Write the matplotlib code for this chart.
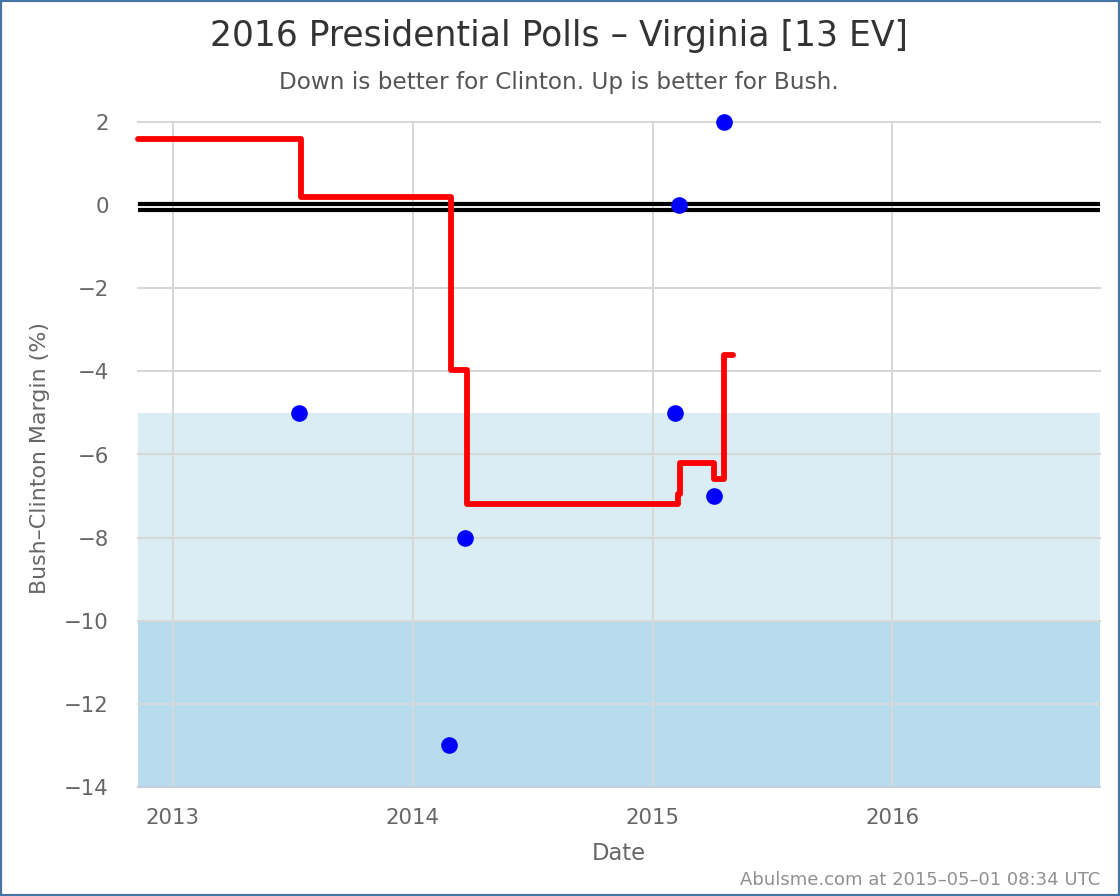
"""
Virginia poll average chart
"""
import matplotlib
matplotlib.use("Agg")
import matplotlib.pyplot as plt
import pandas as pd
from matplotlib.patches import Rectangle

POLL_DATES = ["2013-07-12", "2014-02-26", "2014-03-21", "2015-02-04",
              "2015-02-11", "2015-04-04", "2015-04-20"]
POLL_MARGINS = [-5, -13, -8, -5, 0, -7, 2]

AVG_DATES = ["2012-11-09", "2013-07-15", "2014-02-28", "2014-03-24",
             "2015-02-09", "2015-02-12", "2015-04-04", "2015-04-20",
             "2015-05-03"]
AVG_MARGINS = [1.6, 0.2, -3.97, -7.2, -6.95, -6.2, -6.6, -3.6, -3.6]

X_RANGE = ["2012-11-09", "2016-11-12"]
Y_RANGE = [-14, 2]
Y_TICKS = [2, 0, -2, -4, -6, -8, -10, -12, -14]
YEAR_TICKS = ["2013-01-01", "2014-01-01", "2015-01-01", "2016-01-01"]
YEAR_LABELS = ["2013", "2014", "2015", "2016"]
BANDS = [(-10, -5, "#daedf5"), (-14, -10, "#b6dcee")]
ZERO_LINES = [0.03, -0.12]

W, H = 1120, 896
plt.rcParams["font.family"] = "DejaVu Sans"

fig = plt.figure(figsize=(W / 100, H / 100), dpi=100)
ax = fig.add_axes([138 / W, 1 - 787 / H, (1100 - 138) / W, (787 - 122) / H])

ax.set_xlim(pd.to_datetime(X_RANGE[0]), pd.to_datetime(X_RANGE[1]))
ax.set_ylim(Y_RANGE[0], Y_RANGE[1])

for low, high, color in BANDS:
  ax.axhspan(low, high, color=color, lw=0, zorder=0)

ax.grid(True, color="#d8d8d8", lw=1.45, zorder=1)
ax.set_axisbelow(True)
ax.set_xticks(pd.to_datetime(YEAR_TICKS))
ax.set_xticklabels(YEAR_LABELS)
ax.set_yticks(Y_TICKS)
ax.set_yticklabels([str(t).replace("-", "\u2212") for t in Y_TICKS])
ax.tick_params(length=0, labelsize=15.3, labelcolor="#666666")
ax.tick_params(axis="x", pad=15)
ax.tick_params(axis="y", pad=21)
for line in ax.get_ygridlines():
  line.set_clip_on(False)

for side in ["top", "left", "right"]:
  ax.spines[side].set_visible(False)
ax.spines["bottom"].set_color("#c0d0e0")
ax.spines["bottom"].set_linewidth(1.45)

for level in ZERO_LINES:
  ax.axhline(level, color="black", lw=3.0, zorder=2)

ax.step(pd.to_datetime(AVG_DATES), AVG_MARGINS, where="post", color="#ff0000",
        lw=4.2, solid_capstyle="round", solid_joinstyle="round", clip_on=False,
        zorder=3)
ax.plot(pd.to_datetime(POLL_DATES), POLL_MARGINS, ls="none", marker="o",
        ms=12, mfc="#0000ff", mec="#0000ff", mew=0, clip_on=False, zorder=4)

ax.set_xlabel("Date", fontsize=16.3, color="#666666", labelpad=10)
ax.set_ylabel("Bush\u2013Clinton Margin (%)", fontsize=15.9, color="#666666")
ax.yaxis.set_label_coords((50 - 138) / (1100 - 138), (787 - 458) / (787 - 122))

fig.text(559 / W, 1 - 36 / H, "2016 Presidential Polls \u2013 Virginia [13 EV]",
         fontsize=24.9, color="#333333", ha="center", va="center")
fig.text(559 / W, 1 - 82 / H, "Down is better for Clinton. Up is better for Bush.",
         fontsize=16.7, color="#555555", ha="center", va="center")
fig.text(1100 / W, 1 - 880 / H, "Abulsme.com at 2015\u201305\u201301 08:34 UTC",
         fontsize=13, color="#909090", ha="right", va="center")

# outer frame of the chart
fig.add_artist(Rectangle((0, 0), 1, 1, transform=fig.transFigure, fill=False,
                         ec="#4572a7", lw=3.0))

fig.savefig("out.png", dpi=100)
